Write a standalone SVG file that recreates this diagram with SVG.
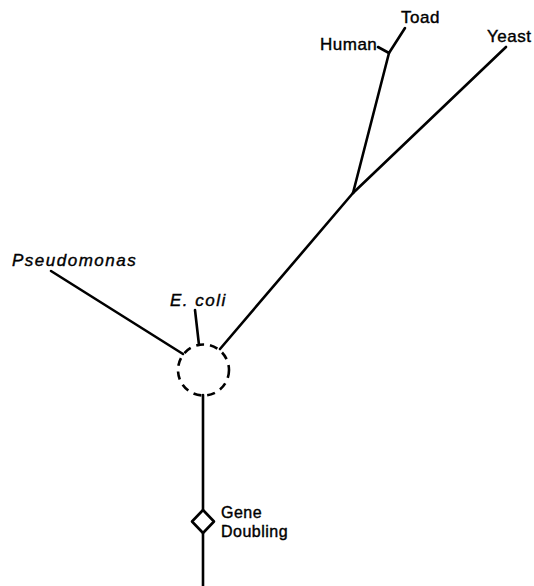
<svg xmlns="http://www.w3.org/2000/svg" width="534" height="586" viewBox="0 0 534 586">
<style>
.ln{stroke:#000;stroke-width:2.6;fill:none;stroke-linecap:round;stroke-linejoin:round}
.lab{font-family:"Liberation Sans",Arial,sans-serif;font-size:17px;fill:#000;stroke:#000;stroke-width:0.4px;letter-spacing:0.5px}
.it{font-style:italic;letter-spacing:1.5px}
.sm{font-size:16px}
</style>
<rect width="534" height="586" fill="#fff"/>
<g id="connectors">
<polyline class="ln" points="378,47 389,53 405,28"/>
<line class="ln" x1="389" y1="53" x2="353" y2="193"/>
<line class="ln" x1="506" y1="47" x2="353" y2="193"/>
<line class="ln" x1="353" y1="193" x2="220" y2="349"/>
<line class="ln" x1="51" y1="271" x2="183" y2="354"/>
<line class="ln" x1="195" y1="310" x2="199" y2="345"/>
<line class="ln" x1="203" y1="395" x2="203" y2="510"/>
<line class="ln" x1="203" y1="533" x2="203" y2="586"/>
</g>
<g id="ancestor">
<circle cx="203.5" cy="370" r="25.5" fill="none" stroke="#000" stroke-width="2.6" stroke-dasharray="8 6"/>
</g>
<g id="gene-doubling">
<polygon class="ln" fill="#fff" points="203,510 214,521.5 203,533 192,521.5"/>
<text class="lab sm" x="221" y="518">Gene</text>
<text class="lab sm" x="221" y="537">Doubling</text>
</g>
<g id="toad"><text class="lab" x="401" y="23">Toad</text></g>
<g id="human"><text class="lab" x="320" y="50">Human</text></g>
<g id="yeast"><text class="lab" x="487" y="42">Yeast</text></g>
<g id="pseudomonas"><text class="lab it" x="12" y="266">Pseudomonas</text></g>
<g id="ecoli"><text class="lab it" x="170" y="306">E. coli</text></g>
</svg>
